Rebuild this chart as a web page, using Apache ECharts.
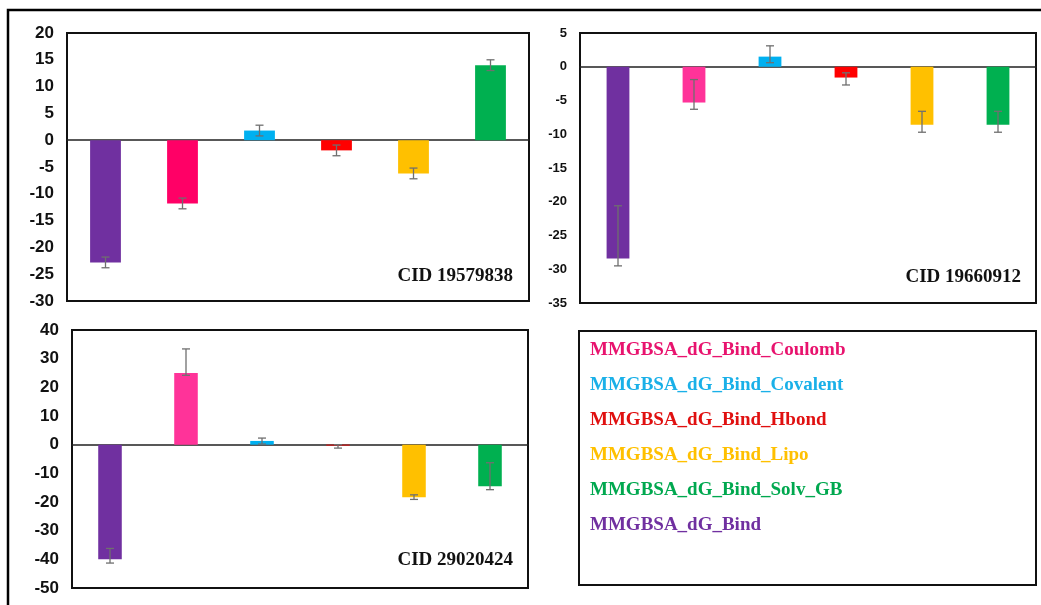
<!DOCTYPE html>
<html>
<head>
<meta charset="utf-8">
<script src="https://cdn.jsdelivr.net/npm/echarts@6/dist/echarts.min.js"></script>
<style>
html,body{margin:0;padding:0;background:#fff;}
#chart{width:1041px;height:605px;}
</style>
</head>
<body>
<div id="chart"></div>
<script>
// ---------- data ----------
const categories = ['MMGBSA_dG_Bind','MMGBSA_dG_Bind_Coulomb','MMGBSA_dG_Bind_Covalent','MMGBSA_dG_Bind_Hbond','MMGBSA_dG_Bind_Lipo','MMGBSA_dG_Bind_Solv_GB'];
const legendLabels = ['MMGBSA_dG_Bind_Coulomb','MMGBSA_dG_Bind_Covalent','MMGBSA_dG_Bind_Hbond','MMGBSA_dG_Bind_Lipo','MMGBSA_dG_Bind_Solv_GB','MMGBSA_dG_Bind'];
const panelTitles = ['CID 19579838','CID 19660912','CID 29020424'];

const values19579838 = [-22.8, -11.8, 1.8, -1.9, -6.2, 14.0];
const errUp19579838   = [1.0, 1.0, 1.0, 1.0, 1.0, 1.0];
const errDown19579838 = [1.0, 1.0, 1.0, 1.0, 1.0, 1.0];

const values19660912 = [-28.4, -5.3, 1.5, -1.6, -8.6, -8.6];
const errUp19660912   = [7.8, 3.4, 1.6, 0.7, 2.0, 2.0];
const errDown19660912 = [1.1, 1.0, 0.9, 1.1, 1.1, 1.1];

const values29020424 = [-40.0, 25.0, 1.3, -0.3, -18.3, -14.5];
const errUp29020424   = [3.8, 8.4, 1.0, 0.3, 0.8, 8.2];
const errDown29020424 = [1.3, 0.8, 1.1, 0.9, 0.8, 1.2];

const yTicks19579838 = {min:-30, max:20, interval:5};
const yTicks19660912 = {min:-35, max:5, interval:5};
const yTicks29020424 = {min:-50, max:40, interval:10};

// ---------- styles ----------
const colorsA = ['#7030A0','#FF0066','#00B0F0','#FF0000','#FFC000','#00B050'];
const colorsB = ['#7030A0','#FF3399','#00B0F0','#FF0000','#FFC000','#00B050'];
const legendColors = ['#E8136E','#1AB0E8','#E01010','#FFC000','#00A84F','#7030A0'];

const panels = [
  {vals: values19579838, up: errUp19579838, down: errDown19579838, ticks: yTicks19579838, colors: colorsA, barW: '40%',
   grid: {left: 67, top: 33, width: 462, height: 268}, labelFont: {fontFamily: 'Liberation Sans', fontSize: 17}},
  {vals: values19660912, up: errUp19660912, down: errDown19660912, ticks: yTicks19660912, colors: colorsB, barW: '30%',
   grid: {left: 580, top: 33, width: 456, height: 270}, labelFont: {fontFamily: 'Liberation Sans', fontSize: 13}},
  {vals: values29020424, up: errUp29020424, down: errDown29020424, ticks: yTicks29020424, colors: colorsB, barW: '31%',
   grid: {left: 72, top: 330, width: 456, height: 258}, labelFont: {fontFamily: 'Liberation Sans', fontSize: 17}}
];

const grids = [], xAxes = [], yAxes = [], series = [];
panels.forEach((p, k) => {
  grids.push(Object.assign({show: true, borderColor: '#111', borderWidth: 2, backgroundColor: '#fff', containLabel: false}, p.grid));
  xAxes.push({
    type: 'category', gridIndex: k, data: categories,
    axisLine: {show: true, onZero: true, lineStyle: {color: '#222', width: 1.5}},
    axisTick: {show: false}, axisLabel: {show: false}, splitLine: {show: false}
  });
  yAxes.push({
    type: 'value', gridIndex: k, min: p.ticks.min, max: p.ticks.max, interval: p.ticks.interval,
    axisLine: {show: false}, axisTick: {show: false}, splitLine: {show: false},
    axisLabel: {color: '#111', fontWeight: 'bold', fontFamily: p.labelFont.fontFamily, fontSize: p.labelFont.fontSize, margin: 13}
  });
  series.push({
    type: 'bar', xAxisIndex: k, yAxisIndex: k, barWidth: p.barW,
    data: p.vals.map((v, i) => ({value: v, itemStyle: {color: p.colors[i]}})),
    z: 2
  });
  series.push({
    type: 'custom', xAxisIndex: k, yAxisIndex: k, z: 5,
    encode: {x: 0, y: [1, 2]},
    data: p.vals.map((v, i) => [i, v - p.down[i], v + p.up[i]]),
    renderItem: function (params, api) {
      const lo = api.coord([api.value(0), api.value(1)]);
      const hi = api.coord([api.value(0), api.value(2)]);
      const c = 4;
      const st = {stroke: '#6f6f6f', lineWidth: 1.3};
      return {type: 'group', children: [
        {type: 'line', shape: {x1: lo[0], y1: lo[1], x2: hi[0], y2: hi[1]}, style: st},
        {type: 'line', shape: {x1: lo[0]-c, y1: lo[1], x2: lo[0]+c, y2: lo[1]}, style: st},
        {type: 'line', shape: {x1: hi[0]-c, y1: hi[1], x2: hi[0]+c, y2: hi[1]}, style: st}
      ]};
    }
  });
});

const graphics = [
  {type: 'rect', z: -10, shape: {x: 8, y: 10, width: 1200, height: 800}, style: {fill: 'none', stroke: '#000', lineWidth: 2.5}},
  {type: 'rect', z: 10, shape: {x: 579, y: 331, width: 457, height: 254}, style: {fill: '#fff', stroke: '#111', lineWidth: 2}},
  {type: 'text', z: 20, right: 1041 - 513, top: 267, style: {text: panelTitles[0], font: 'bold 19px "Liberation Serif"', fill: '#111'}},
  {type: 'text', z: 20, right: 1041 - 1021, top: 268, style: {text: panelTitles[1], font: 'bold 19px "Liberation Serif"', fill: '#111'}},
  {type: 'text', z: 20, right: 1041 - 513, top: 551, style: {text: panelTitles[2], font: 'bold 19px "Liberation Serif"', fill: '#111'}}
];
legendLabels.forEach((t, i) => {
  graphics.push({type: 'text', z: 20, left: 590, top: 341 + i * 35,
    style: {text: t, font: 'bold 19px "Liberation Serif"', fill: legendColors[i]}});
});

const chart = echarts.init(document.getElementById('chart'), null, {renderer: 'canvas'});
chart.setOption({
  backgroundColor: '#fff',
  animation: false,
  grid: grids, xAxis: xAxes, yAxis: yAxes, series: series,
  graphic: graphics
});
</script>
</body>
</html>
